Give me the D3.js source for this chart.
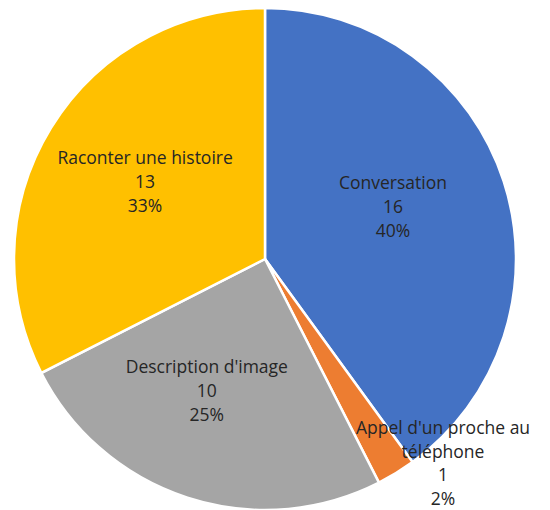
<!DOCTYPE html>
<html>
<head>
<meta charset="utf-8">
<script src="https://cdn.jsdelivr.net/npm/d3@7"></script>
<style>
  body { margin: 0; background: #fff; }
  text { font-family: "Open Sans", "Noto Sans", sans-serif; fill: #262626; }
</style>
</head>
<body>
<svg id="chart"></svg>
<script>
// data
var categories = ["Conversation", "Appel d'un proche au téléphone", "Description d'image", "Raconter une histoire"];
var values = [16, 1, 10, 13];
var percentLabels = ["40%", "2%", "25%", "33%"];
var colors = ["#4472C4", "#ED7D31", "#A5A5A5", "#FFC000"];

function init(){
    var width = 550, height = 510;
    var cx = 265, cy = 259, radius = 251;
    // small label nudges, like excel's best-fit placement
    var nudge = [[-8, -8], [38, -24], [-14, -4], [2, -2]];

    var svg = d3.select("#chart")
        .attr("width", width)
        .attr("height", height)
        .append("g")
        .attr("transform", "translate(" + cx + "," + cy + ")");

    var data = categories.map(function(c, i) {
        return {name: c, value: values[i], pct: percentLabels[i], color: colors[i]};
    });

    var pie = d3.pie().sort(null).value(function(d) { return d.value; });
    var arcs = pie(data);

    var arc = d3.arc().innerRadius(0).outerRadius(radius);
    var labelArc = d3.arc().innerRadius(143).outerRadius(143);
    var outerArc = d3.arc().innerRadius(268).outerRadius(268);

    // slices
    svg.selectAll(".slice")
        .data(arcs)
        .enter()
        .append("path")
        .attr("class", "slice")
        .attr("d", arc)
        .attr("fill", function(d) { return d.data.color; })
        .attr("stroke", "#fff")
        .attr("stroke-width", 2.5);

    // labels
    arcs.forEach(function(d, i) {
        var small = (d.endAngle - d.startAngle) < 0.3;
        var lines, pos;
        var lineH = small ? 23.5 : 24;
        if (small) {
            lines = ["Appel d'un proche au", "téléphone", d.data.value, d.data.pct];
            pos = outerArc.centroid(d);
        } else {
            lines = [d.data.name, d.data.value, d.data.pct];
            pos = labelArc.centroid(d);
        }
        pos = [pos[0] + nudge[i][0], pos[1] + nudge[i][1]];
        var t = svg.append("text")
            .attr("text-anchor", "middle")
            .attr("font-size", "17.5px");
        var y0 = pos[1] - (lines.length - 1) * lineH / 2;
        lines.forEach(function(l, j) {
            t.append("tspan")
                .attr("x", pos[0])
                .attr("y", y0 + j * lineH)
                .attr("dy", "0.35em")
                .text(l);
        });
    });
}
window.onload = init
</script>
</body>
</html>
